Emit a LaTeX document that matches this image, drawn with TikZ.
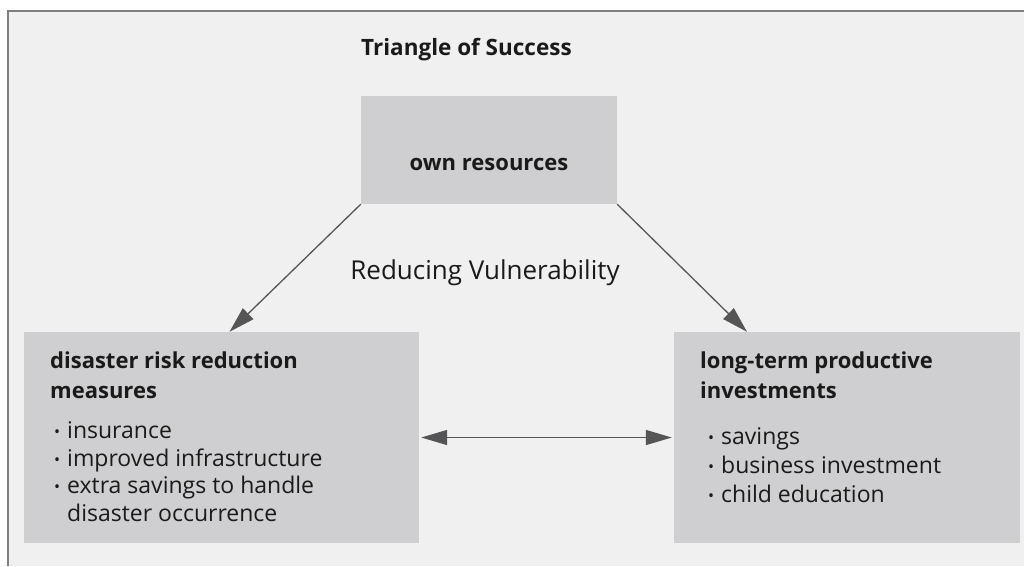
\documentclass[tikz,border=0pt]{standalone}
\usepackage{fontspec}
\setmainfont{Open Sans}
\usetikzlibrary{arrows.meta}
\definecolor{bgc}{HTML}{F0F0F0}
\definecolor{boxc}{HTML}{CFCFD1}
\definecolor{framec}{HTML}{7F7F7F}
\definecolor{arrc}{HTML}{555557}
\definecolor{txtc}{HTML}{1A1A1A}
\newcommand\bulitem{\makebox[13pt][l]{\raisebox{1pt}{\fontsize{16}{16}\selectfont•}}}
\tikzset{
  boxnode/.style={fill=boxc, draw=none, inner sep=0pt},
  headtxt/.style={anchor=base west, inner sep=0pt, text=txtc, font=\fontsize{22}{22}\selectfont\bfseries},
  bodytxt/.style={anchor=base west, inner sep=0pt, text=txtc, font=\fontsize{23}{23}\selectfont},
  conn/.style={draw=arrc, line width=1.3pt, -{Triangle[length=26pt,width=15pt]}},
  dconn/.style={draw=arrc, line width=1.3pt, {Triangle[length=26pt,width=15pt]}-{Triangle[length=26pt,width=15pt]}}
}
\begin{document}
\begin{tikzpicture}[x=1pt,y=-1pt]
\useasboundingbox (0,0) rectangle (1024,566);
\fill[white] (0,0) rectangle (1024,566);
\fill[bgc] (8,11) rectangle (1024,566);
\draw[framec, line width=2pt] (8,566) -- (8,11) -- (1024,11);

\node[headtxt, font=\fontsize{22.5}{22.5}\selectfont\bfseries] (title) at (361,55) {Triangle of Success};

\node[boxnode, minimum width=256pt, minimum height=108pt] (own) at (489,150) {};
\node[headtxt, anchor=base] (owntxt) at (489,170) {own resources};

\node[anchor=base, inner sep=0pt, text=txtc, font=\fontsize{26}{26}\selectfont] (rv) at (485,279) {Reducing Vulnerability};

\node[boxnode, minimum width=395pt, minimum height=211pt] (drr) at (221.5,437.5) {};
\node[boxnode, minimum width=346pt, minimum height=211pt] (inv) at (847,437.5) {};

\node[headtxt] (d1) at (50,368) {disaster risk reduction};
\node[headtxt] (d2) at (50,398) {measures};
\node[bodytxt] (d3) at (54,438) {\bulitem insurance};
\node[bodytxt] (d4) at (54,466) {\bulitem improved infrastructure};
\node[bodytxt] (d5) at (54,493) {\bulitem extra savings to handle};
\node[bodytxt] (d6) at (67,521) {disaster occurrence};

\node[headtxt] (l1) at (700,368) {long-term productive};
\node[headtxt] (l2) at (700,398) {investments};
\node[bodytxt] (l3) at (708,444) {\bulitem savings};
\node[bodytxt] (l4) at (708,473) {\bulitem business investment};
\node[bodytxt] (l5) at (708,502) {\bulitem child education};

\draw[conn] (own.south west) -- ([xshift=8pt]drr.north);
\draw[conn] (own.south east) -- ([xshift=-100pt]inv.north);
\draw[dconn, shorten <=2pt, shorten >=2pt] (drr.east) -- (inv.west);
\end{tikzpicture}
\end{document}
